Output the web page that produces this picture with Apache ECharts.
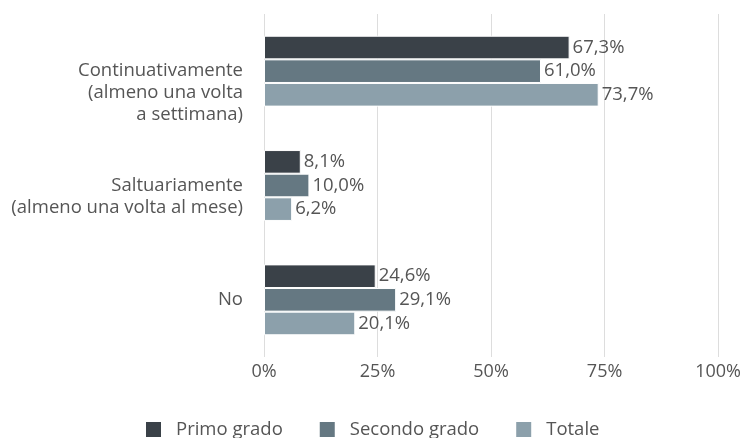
<!DOCTYPE html>
<html>
<head>
<meta charset="utf-8">
<script src="https://cdn.jsdelivr.net/npm/echarts@6/dist/echarts.min.js"></script>
<style>
  html, body { margin: 0; padding: 0; background: #fff; }
  #chart { width: 744px; height: 438px; }
</style>
</head>
<body>
<div id="chart"></div>
<script>
// categorie (dall'alto verso il basso)
const categories = [
  "Continuativamente\n(almeno una volta\na settimana)",
  "Saltuariamente\n(almeno una volta al mese)",
  "No"
];
const seriesNames = ["Primo grado", "Secondo grado", "Totale"];
const primoGrado = [67.3, 8.1, 24.6];
const secondoGrado = [61.0, 10.0, 29.1];
const totale = [73.7, 6.2, 20.1];
const xTicks = [0, 25, 50, 75, 100];
const colors = ["#3a4148", "#657882", "#8ca0ab"];

const textColor = "#555555";
const font = "'Open Sans', sans-serif";

const chart = echarts.init(document.getElementById("chart"));

const makeSeries = (name, data, color) => ({
  name: name,
  type: "bar",
  data: data,
  barGap: "0%",
  barCategoryGap: "38%",
  itemStyle: { color: color, borderColor: "#ffffff", borderWidth: 1 },
  label: {
    show: true,
    position: "right",
    distance: 3,
    color: textColor,
    fontFamily: font,
    fontSize: 18.5,
    formatter: (p) => p.value.toFixed(1).replace(".", ",") + "%",
  },
});

chart.setOption({
  animation: false,
  color: colors,
  grid: { left: 264, right: 22, top: 14, bottom: 81 },
  legend: {
    top: 415,
    left: 139,
    itemWidth: 17,
    itemHeight: 17,
    itemGap: 35,
    icon: "rect",
    textStyle: { color: textColor, fontFamily: font, fontSize: 18.5, padding: [0, 0, 0, 9] },
    data: seriesNames,
  },
  xAxis: {
    type: "value",
    min: xTicks[0],
    max: xTicks[xTicks.length - 1],
    interval: 25,
    axisLine: { show: false },
    axisTick: { show: false },
    splitLine: { lineStyle: { color: "#dddddd", width: 1 } },
    axisLabel: {
      color: textColor,
      fontFamily: font,
      fontSize: 18,
      margin: 6,
      formatter: "{value}%",
    },
  },
  yAxis: {
    type: "category",
    inverse: true,
    data: categories,
    axisLine: { show: false },
    axisTick: { show: false },
    axisLabel: {
      color: textColor,
      fontFamily: font,
      fontSize: 18.5,
      lineHeight: 22,
      margin: 21,
      align: "right",
      // la prima riga è allineata al centro della categoria
      formatter: (v) => {
        const n = v.split("\n").length;
        return "\n".repeat(n - 1) + v;
      },
    },
  },
  series: [
    makeSeries(seriesNames[0], primoGrado, colors[0]),
    makeSeries(seriesNames[1], secondoGrado, colors[1]),
    makeSeries(seriesNames[2], totale, colors[2]),
  ],
});
</script>
</body>
</html>
